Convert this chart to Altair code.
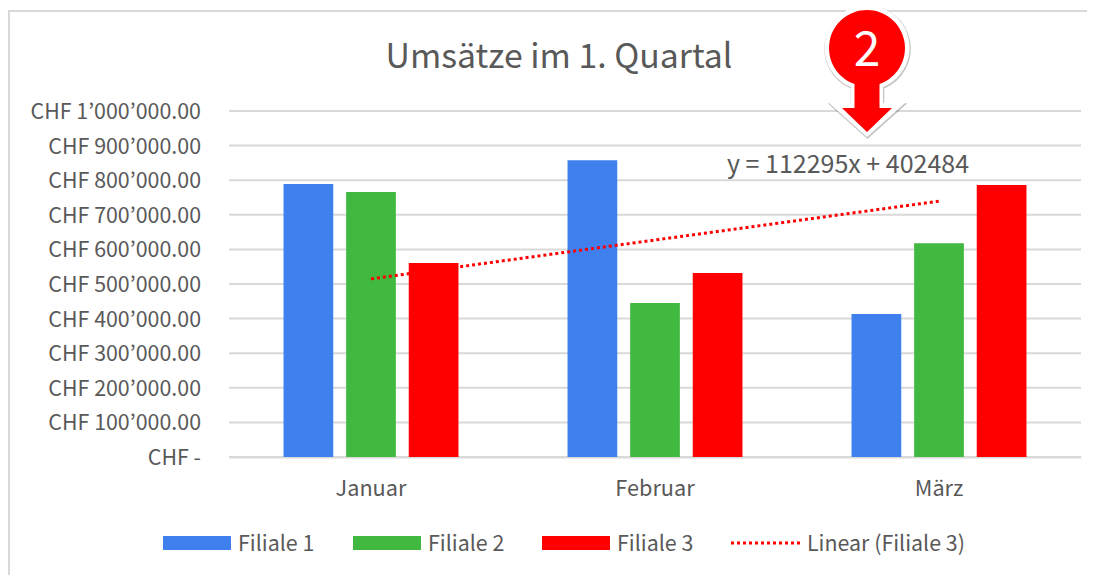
import altair as alt
import pandas as pd

FONT = "Noto Sans CJK JP"
TEXT = "#595959"
GRID = "#d9d9d9"

months = ["Januar", "Februar", "März"]
series = ["Filiale 1", "Filiale 2", "Filiale 3"]
filiale_1 = [789000, 858000, 413000]
filiale_2 = [766000, 445000, 618000]
filiale_3 = [561000, 532000, 786000]
trend_values = [514779, 627074, 739369]
colors = ["#3f80ee", "#41b83f", "#ff0000"]
y_ticks = [0, 100000, 200000, 300000, 400000, 500000, 600000, 700000, 800000, 900000, 1000000]
y_labels = ["CHF -\u00a0\u00a0", "CHF 100’000.00", "CHF 200’000.00", "CHF 300’000.00", "CHF 400’000.00",
            "CHF 500’000.00", "CHF 600’000.00", "CHF 700’000.00", "CHF 800’000.00", "CHF 900’000.00",
            "CHF 1’000’000.00"]

bars = pd.DataFrame({
    "Monat": [m for m in months for _ in series],
    "Filiale": series * 3,
    "Umsatz": [v for t in zip(filiale_1, filiale_2, filiale_3) for v in t],
})
trend = pd.DataFrame({"Monat": months, "Trend": trend_values})
ticks = pd.DataFrame({"Wert": y_ticks, "Label": y_labels})

x_scale = alt.Scale(domain=months, paddingInner=0.384, paddingOuter=0.192)
y_scale = alt.Scale(domain=[0, 1000000], nice=False)

W, H = 852, 346
OX, OY = 229, 111  # page position of the plot origin
def px(v): return alt.value(v - OX)
def py(v): return alt.value(v - OY)

frame = alt.Chart(pd.DataFrame({"a": [0]})).mark_rect(
    fillOpacity=0, stroke=GRID, strokeWidth=2, clip=False
).encode(x=px(9), x2=px(1110), y=py(11), y2=py(590))

gridlines = alt.Chart(ticks).mark_rule(color=GRID, strokeWidth=2).encode(
    y=alt.Y("Wert:Q", scale=y_scale, axis=None)
)
y_tick_labels = alt.Chart(ticks).mark_text(
    font=FONT, fontSize=21.4, color=TEXT, align="right", baseline="middle", dx=-28, dy=2, clip=False
).encode(
    y=alt.Y("Wert:Q", scale=y_scale, axis=None),
    x=alt.value(0),
    text="Label:N",
)

columns = alt.Chart(bars).mark_bar().encode(
    x=alt.X("Monat:N", scale=x_scale, sort=months,
            axis=alt.Axis(title=None, domain=True, domainColor=GRID, domainWidth=2, ticks=False,
                          labelAngle=0, labelFont=FONT, labelFontSize=21.7, labelColor=TEXT, labelPadding=21)),
    xOffset=alt.XOffset("Filiale:N", sort=series, scale=alt.Scale(paddingInner=0.206, paddingOuter=0)),
    y=alt.Y("Umsatz:Q", scale=y_scale, axis=None),
    color=alt.Color("Filiale:N", scale=alt.Scale(domain=series, range=colors), legend=None),
)

trend_line = alt.Chart(trend).mark_line(color="#ff0000", strokeWidth=3, strokeDash=[3, 3]).encode(
    x=alt.X("Monat:N", scale=x_scale, sort=months),
    y=alt.Y("Trend:Q", scale=y_scale, axis=None),
)

def label(text, x, y, size=21.4, color=TEXT, align="left"):
    return alt.Chart(pd.DataFrame({"t": [text]})).mark_text(
        font=FONT, fontSize=size, color=color, align=align, baseline="middle", clip=False
    ).encode(text="t:N", x=px(x), y=py(y))

title = label("Umsätze im 1. Quartal", 559, 58, size=33.8, align="center")
equation = label("y = 112295x + 402484", 848, 165, size=25, align="center")

# legend
legend_items = [("Filiale 1", colors[0], 163, 231, 238), ("Filiale 2", colors[1], 353, 421, 428),
                ("Filiale 3", colors[2], 542, 610, 617)]
legend = []
for name, col, x0, x1, tx in legend_items:
    legend.append(alt.Chart(pd.DataFrame({"n": [name]})).mark_rect(color=col, clip=False).encode(
        x=px(x0), x2=px(x1), y=py(536), y2=py(550)))
    legend.append(label(name, tx, 545))
legend.append(alt.Chart(pd.DataFrame({"n": ["Linear (Filiale 3)"]})).mark_rule(
    color="#ff0000", strokeWidth=3, strokeDash=[3, 3], clip=False
).encode(x=px(731), x2=px(800), y=py(543)))
legend.append(label("Linear (Filiale 3)", 807, 545))

# callout glyph: unit path, 1 unit = 50 px around its anchor
RED_SHAPE = ("M-0.25,0.36 L-0.5,0.36 L0,0.84 L0.5,0.36 L0.25,0.36 L0.25,-0.12 "
             "A0.76,0.76 0 1 0 -0.25,-0.12 Z")
WHITE_SHAPE = ("M-0.32,0.26 L-0.76,0.26 L0,0.94 L0.76,0.26 L0.32,0.26 L0.32,-0.06 "
               "A0.85,0.85 0 1 0 -0.32,-0.06 Z")
def glyph(shape, color, x, y, opacity=1.0, stroke_width=0):
    return alt.Chart(pd.DataFrame({"a": [0]})).mark_point(
        shape=shape, filled=True, color=color, stroke=color, strokeWidth=stroke_width,
        opacity=opacity, size=10000, clip=False
    ).encode(x=px(x), y=py(y))

shadow = glyph(WHITE_SHAPE, "#000000", 867.5, 91, 0.22, stroke_width=1.5)
white = glyph(WHITE_SHAPE, "#ffffff", 867, 90)
red = glyph(RED_SHAPE, "#ff0000", 867, 90)
two = label("2", 867, 52, size=48, color="#ffffff", align="center")

chart = alt.layer(frame, gridlines, y_tick_labels, columns, trend_line, title, equation, *legend,
                  shadow, white, red, two).resolve_scale(
    x="shared", y="shared"
).properties(
    width=W, height=H, padding={"left": 221, "top": 103, "right": 6, "bottom": 118},
    autosize=alt.AutoSizeParams(type="none"), background="white"
).configure_view(stroke=None)

chart.save("out.html", embed_options={"renderer": "svg", "actions": False})
